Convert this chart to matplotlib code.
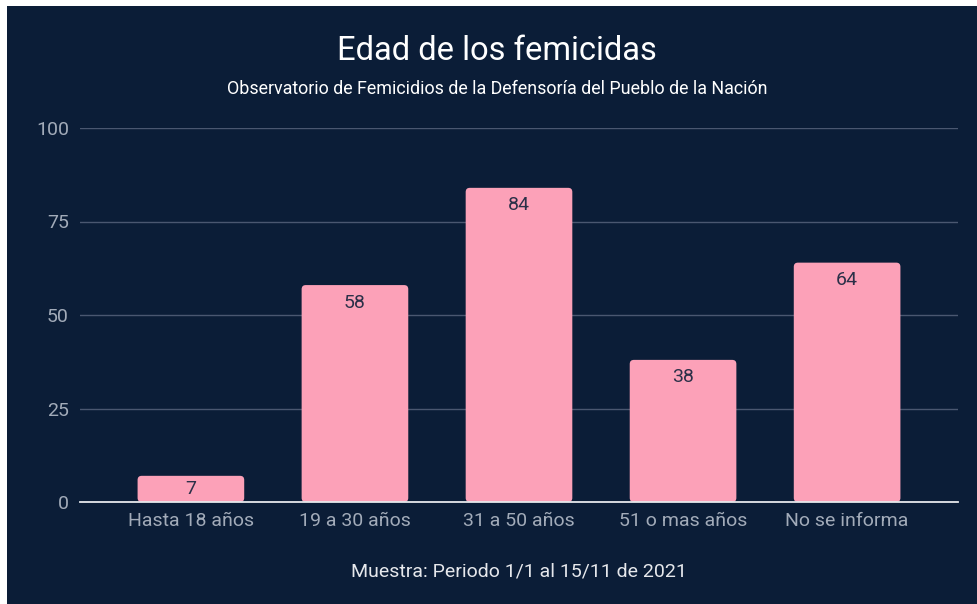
import numpy as np
import matplotlib.pyplot as plt
from matplotlib.patches import FancyBboxPatch

categories = ["Hasta 18 años", "19 a 30 años", "31 a 50 años", "51 o mas años", "No se informa"]
values = [7, 58, 84, 38, 64]
yticks = [0, 25, 50, 75, 100]

bg = "#0b1d37"
barColor = "#fca1b8"
labelColor = "#2b3048"
tickColor = "#a2abb9"
gridColor = "#4a5770"

plt.rcParams['font.family'] = ['Roboto', 'DejaVu Sans']

fig = plt.figure(figsize=(9.77, 6.04), dpi=100)
fig.patch.set_facecolor("white")
# navy panel, with a thin white margin top and left
fig.add_artist(plt.Rectangle((7/977, 0), 1, 1 - 6/604, transform=fig.transFigure,
                             facecolor=bg, edgecolor="none", zorder=-10))

ax = fig.add_axes([80/977, 1 - 502/604, (958-80)/977, (502-128)/604])
ax.set_facecolor(bg)
x = np.arange(len(categories))
width = 0.65
for xi, v in zip(x, values):
    ax.add_patch(FancyBboxPatch((xi - width/2, 0), width, v,
                                boxstyle="round,pad=0,rounding_size=0.025",
                                mutation_aspect=164.3/3.74,
                                facecolor=barColor, edgecolor="none", zorder=3))
    ax.text(xi, max(v - 4.7, v/2), str(v), ha="center", va="center", fontsize=14,
            color=labelColor, zorder=4)

ax.set_xlim(-0.676, 4.676)
ax.set_ylim(0, 100)
ax.set_xticks(x)
ax.set_xticklabels(categories)
ax.set_yticks(yticks)
ax.tick_params(axis="both", length=0, colors=tickColor, labelsize=14)
ax.tick_params(axis="x", pad=7)
ax.tick_params(axis="y", pad=8)
for s in ["top", "right", "left"]:
    ax.spines[s].set_visible(False)
ax.spines["bottom"].set_color("#e6e8ec")
ax.spines["bottom"].set_linewidth(1.3)
ax.spines["bottom"].set_zorder(5)
ax.grid(axis="y", color=gridColor, linewidth=1, zorder=0)
ax.set_axisbelow(True)

fig.text(497/977, 1 - 51/604, "Edad de los femicidas", ha="center", va="center",
         fontsize=23.5, color="white")
fig.text(497/977, 1 - 89/604, "Observatorio de Femicidios de la Defensoría del Pueblo de la Nación",
         ha="center", va="center", fontsize=12.9, color="white")
fig.text(519/977, 1 - 571/604, "Muestra: Periodo 1/1 al 15/11 de 2021", ha="center", va="center",
         fontsize=14, color="#e6e8ec")

fig.savefig("out.png", dpi=100, facecolor=fig.get_facecolor())
